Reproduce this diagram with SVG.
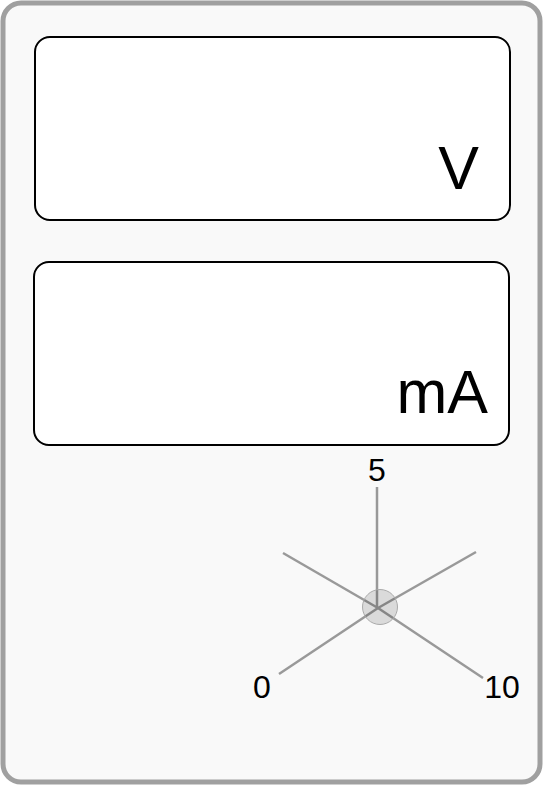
<svg xmlns="http://www.w3.org/2000/svg" width="543" height="785" viewBox="0 0 543 785">
<style>
.box{fill:#fff;stroke:#000;stroke-width:2}
.big{font-family:"Liberation Sans",Arial,sans-serif;font-size:61px;fill:#000;text-anchor:end}
.lbl{font-family:"Liberation Sans",Arial,sans-serif;font-size:32px;fill:#000}
.spoke{stroke:#999;stroke-width:2.5;stroke-linecap:butt}
</style>
<g id="case"><rect x="3" y="3" width="537" height="779" rx="18" ry="18" fill="#f9f9f9" stroke="#a0a0a0" stroke-width="5"/></g>
<g id="voltage"><rect class="box" x="35" y="37" width="475" height="183" rx="15" ry="15"/><text class="big" x="479" y="189">V</text></g>
<g id="current"><rect class="box" x="34" y="262" width="475" height="183" rx="15" ry="15"/><text class="big" x="488" y="413">mA</text></g>
<g id="dial">
<g id="spokes">
<line class="spoke" x1="377" y1="487" x2="377" y2="607"/>
<line class="spoke" x1="378" y1="608" x2="283" y2="553"/>
<line class="spoke" x1="378" y1="608" x2="476" y2="552"/>
<line class="spoke" x1="378" y1="608" x2="279" y2="674"/>
<line class="spoke" x1="378" y1="608" x2="483" y2="678"/>
</g>
<circle cx="380" cy="607" r="17.5" fill="#000" fill-opacity="0.12" stroke="#aaa" stroke-width="1"/>
<text class="lbl" x="377" y="481" text-anchor="middle">5</text>
<text class="lbl" x="262" y="698" text-anchor="middle">0</text>
<text class="lbl" x="502" y="698" text-anchor="middle">10</text>
</g>
</svg>
